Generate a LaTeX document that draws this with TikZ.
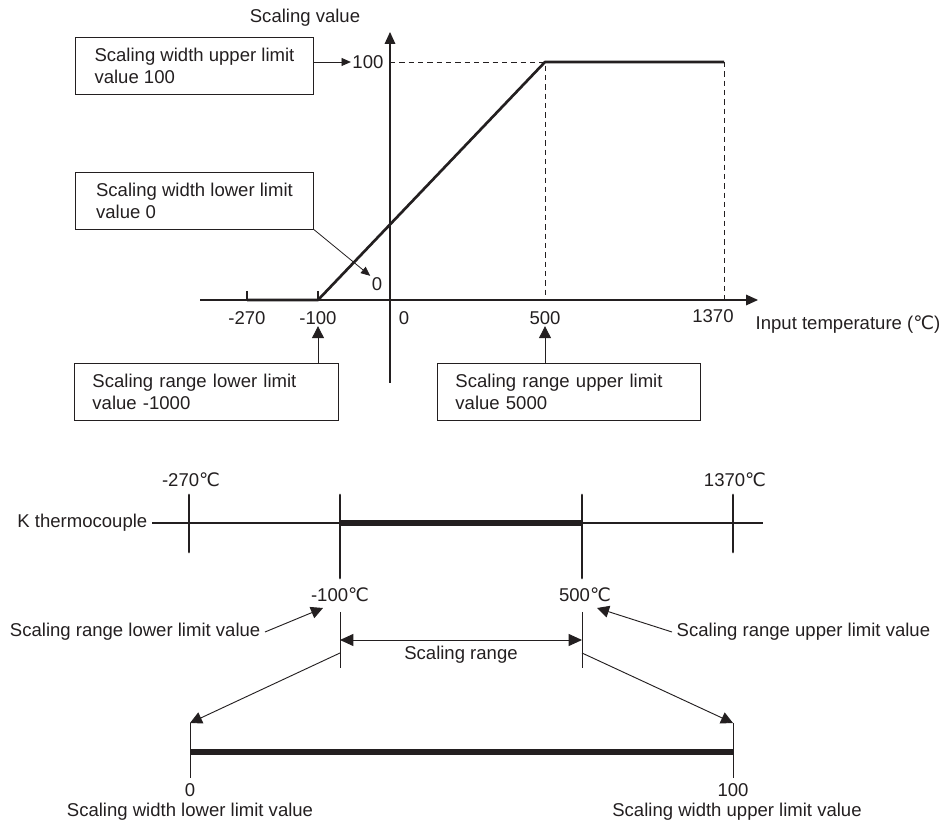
\documentclass[tikz,border=0pt]{standalone}
\usepackage{fontspec}
\setmainfont{Liberation Sans}
\newfontfamily\degfont{DejaVu Sans}
\usetikzlibrary{arrows.meta}
\newcommand{\dC}{{\degfont ℃}}
\definecolor{ink}{HTML}{231F20}

\begin{document}
\begin{tikzpicture}[x=0.75pt, y=-0.75pt, color=ink,
	font=\fontsize{13.9}{16.5}\selectfont,
	>={Triangle[length=7pt,width=6pt]},
	callout/.style={draw, line width=0.7pt, anchor=north west, align=left,
		inner xsep=13.5pt, minimum height=42.5pt, minimum width=#1},
	lbl/.style={inner sep=1pt},
	lead/.style={line width=0.6pt, ->},
	bigtip/.style={line width=0.7pt, -{Triangle[length=9pt,width=9pt]}},
	axis/.style={line width=0.9pt, -{Triangle[length=9pt,width=8pt]}},
	bar/.style={line width=5pt},
	tcmark/.style={line width=2.2pt, line cap=round}]
	\useasboundingbox (0,0) rectangle (940,823);

	% scaling graph
	\draw[axis] (200,300) -- (758,300);
	\draw[axis] (390,383) -- (390,32);
	\node (ylab) at (305,18) {Scaling value};
	\node[anchor=west] (xlab) at (751,325) {Input temperature (\dC)};

	\node[lbl] (t270) at (247,318) {-270};
	\node[lbl] (t100) at (318,318) {-100};
	\node[lbl] (t0) at (404,318) {0};
	\node[lbl] (t500) at (545,318) {500};
	\node[lbl] (t1370) at (713,316) {1370};
	\node[lbl, anchor=east] (v100) at (385,62) {100};
	\node[lbl] (v0) at (377,284) {0};

	\foreach \x in {247,318}
		\draw[line width=0.8pt] (\x,291) -- (\x,300);
	\draw[dash pattern=on 4pt off 3pt, line width=0.7pt] (390,62) -- (545,62) -- (545,300);
	\draw[dash pattern=on 4pt off 3pt, line width=0.7pt] (724,62) -- (724,300);
	\draw[line width=2pt, line join=round] (247,300) -- (318,300) -- (545,62) -- (724,62);

	\node[callout=178.5pt] (wup) at (75,37) {Scaling width upper limit\\value 100};
	\node[callout=178.5pt] (wlo) at (75,172) {Scaling width lower limit\\value 0};
	\node[callout=198pt, text width=171pt] (rlo) at (74,363) {Scaling range lower limit\\value -1000};
	\node[callout=197pt, text width=170pt] (rup) at (437,363) {Scaling range upper limit\\value 5000};

	\draw[lead] (wup.east |- v100.west) -- (v100.west);
	\draw[lead] (wlo.south east) -- (v0.north west);
	\draw[bigtip] (rlo.north -| t100.south) -- (t100.south);
	\draw[bigtip] (rup.north -| t500.south) -- (t500.south);

	% thermocouple range
	\node[anchor=east] (kt) at (152,523) {K thermocouple};
	\coordinate (kend) at (763,523);
	\draw[line width=0.8pt] (kt.east) -- (kend);
	\draw[bar] (340,523) -- (582,523);
	\draw[tcmark] (189,495) -- (189,552);
	\draw[tcmark] (733,495) -- (733,552);
	\draw[tcmark] (340,495) -- (340,578);
	\draw[tcmark] (582,495) -- (582,578);

	\node (c270) at (191,480) {-270\dC};
	\node (c1370) at (735,480) {1370\dC};
	\node (c100) at (340,595) {-100\dC};
	\node (c500) at (585,595) {500\dC};

	\coordinate (rl) at (340,640);
	\coordinate (ru) at (582,640);
	\draw[line width=0.7pt] (340,612) -- (340,668);
	\draw[line width=0.7pt] (582,612) -- (582,668);
	\draw[line width=0.7pt, {Triangle[length=10pt,width=9pt]}-{Triangle[length=10pt,width=9pt]}] (rl) -- (ru);
	\node (srng) at (461,655) {Scaling range};

	\node[anchor=east] (srl) at (265,632) {Scaling range lower limit value};
	\node[anchor=west] (sru) at (672,632) {Scaling range upper limit value};
	\coordinate (pl) at (323,608);
	\coordinate (pu) at (597,608);
	\draw[bigtip] (srl.east) -- (pl);
	\draw[bigtip] (sru.west) -- (pu);

	% scaling width
	\coordinate (wl) at (190,723);
	\coordinate (wu) at (733,723);
	\draw[bigtip] (340,653) -- (wl);
	\draw[bigtip] (582,653) -- (wu);
	\draw[bar] (190,752) -- (733,752);
	\draw[line width=0.7pt] (wl) -- (190,778);
	\draw[line width=0.7pt] (wu) -- (733,778);

	\node (b0) at (190,790) {0};
	\node (b100) at (733,790) {100};
	\node (bwl) at (190,812) {Scaling width lower limit value};
	\node (bwu) at (737,812) {Scaling width upper limit value};

\end{tikzpicture}
\end{document}
